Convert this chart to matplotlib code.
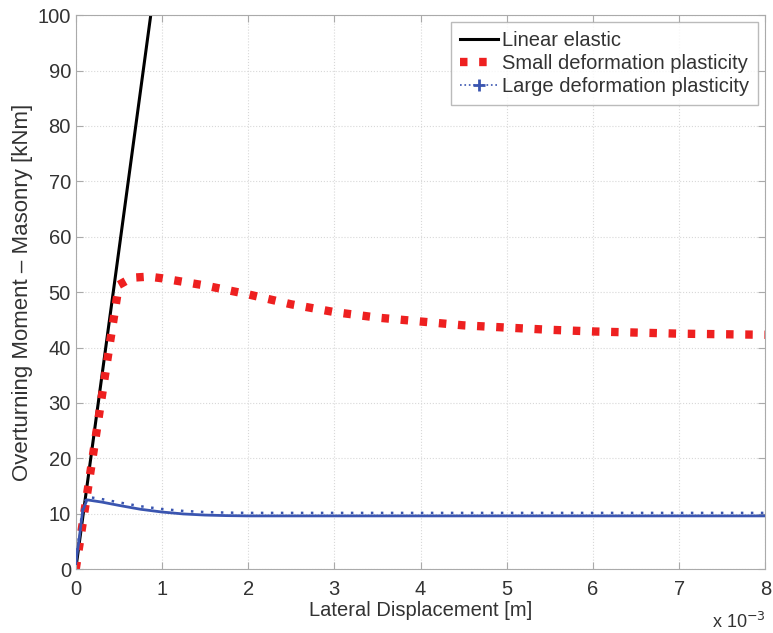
import matplotlib.pyplot as plt
import matplotlib.transforms as mtransforms
import numpy as np

plt.rcParams['font.family'] = ['Liberation Sans', 'DejaVu Sans']

# displacement in units of 1e-3 m, moment in kNm
elastic_x = [0.0, 0.87]
elastic_y = [0.0, 100.0]

small_x = [0.0, 0.1, 0.2, 0.3, 0.4, 0.5, 0.65, 0.85, 1.0, 1.5, 2.0, 2.5, 3.0,
           3.5, 4.0, 4.5, 5.0, 5.5, 6.0, 6.5, 7.0, 7.5, 8.0]
small_y = [0.0, 10.3, 20.6, 30.9, 41.2, 51.3, 52.6, 52.8, 52.5, 51.2, 49.6, 47.8, 46.4,
           45.4, 44.7, 44.0, 43.6, 43.2, 42.9, 42.7, 42.5, 42.4, 42.3]

large_x = [0.0, 0.04, 0.08, 0.13, 0.3, 0.5, 0.75, 1.0, 1.25, 1.5, 1.75, 2.0, 3.0,
           4.0, 5.0, 6.0, 7.0, 8.0]
large_y = [1.0, 5.5, 10.5, 12.5, 12.1, 11.5, 10.8, 10.3, 9.95, 9.75, 9.65, 9.6, 9.6,
           9.6, 9.6, 9.6, 9.6, 9.6]

xticks = np.arange(0, 9, 1)
yticks = np.arange(0, 101, 10)

fig = plt.figure(figsize=(7.73, 6.33), dpi=100)
ax = fig.add_axes([0.098, 0.101, 0.892, 0.875])

ax.plot(elastic_x, elastic_y, color='black', lw=2.2, label='Linear elastic')
ax.plot(small_x, small_y, color='#ee2020', lw=6, ls=(0, (0.9, 1.4)),
        label='Small deformation plasticity')
ax.plot(large_x, large_y, color='#3a55b0', lw=2, zorder=3)
# dotted marker trace drawn a few pixels above the solid one, as in the original
shift = ax.transData + mtransforms.ScaledTranslation(0, 3 / 100, fig.dpi_scale_trans)
ax.plot(large_x, large_y, color='#3a55b0', lw=1.8, ls=(0, (1, 3)), zorder=3,
        transform=shift)
ax.plot([], [], color='#3a55b0', lw=1.2, ls=':', marker='+', ms=8, mew=2,
        markevery=[1], label='Large deformation plasticity')

ax.set_xlim(0, 8)
ax.set_ylim(0, 100)
ax.set_xticks(xticks)
ax.set_yticks(yticks)
ax.grid(True, ls=':', color='#d8d8d8', lw=0.8)
ax.tick_params(direction='in', length=5, colors='#aaaaaa', labelcolor='#333333',
               labelsize=14.5, top=True, right=True)
ax.tick_params(axis='x', pad=8)
for s in ax.spines.values():
    s.set_color('#aaaaaa')

ax.set_xlabel('Lateral Displacement [m]', fontsize=14.5, color='#333333', labelpad=1)
ax.set_ylabel('Overturning Moment \u2013 Masonry [kNm]', fontsize=16, color='#333333',
              labelpad=3)
ax.text(1.0, -0.078, 'x 10$^{-3}$', transform=ax.transAxes, ha='right', va='top',
        fontsize=13, color='#333333')

leg = ax.legend(loc='upper right', fontsize=14.5, frameon=True, fancybox=False,
                borderpad=0.45, handlelength=1.9, handletextpad=0.2,
                labelspacing=0.2, borderaxespad=0.35)
leg.get_frame().set_edgecolor('#aaaaaa')
for t in leg.get_texts():
    t.set_color('#333333')

fig.savefig('out.png', dpi=100)
